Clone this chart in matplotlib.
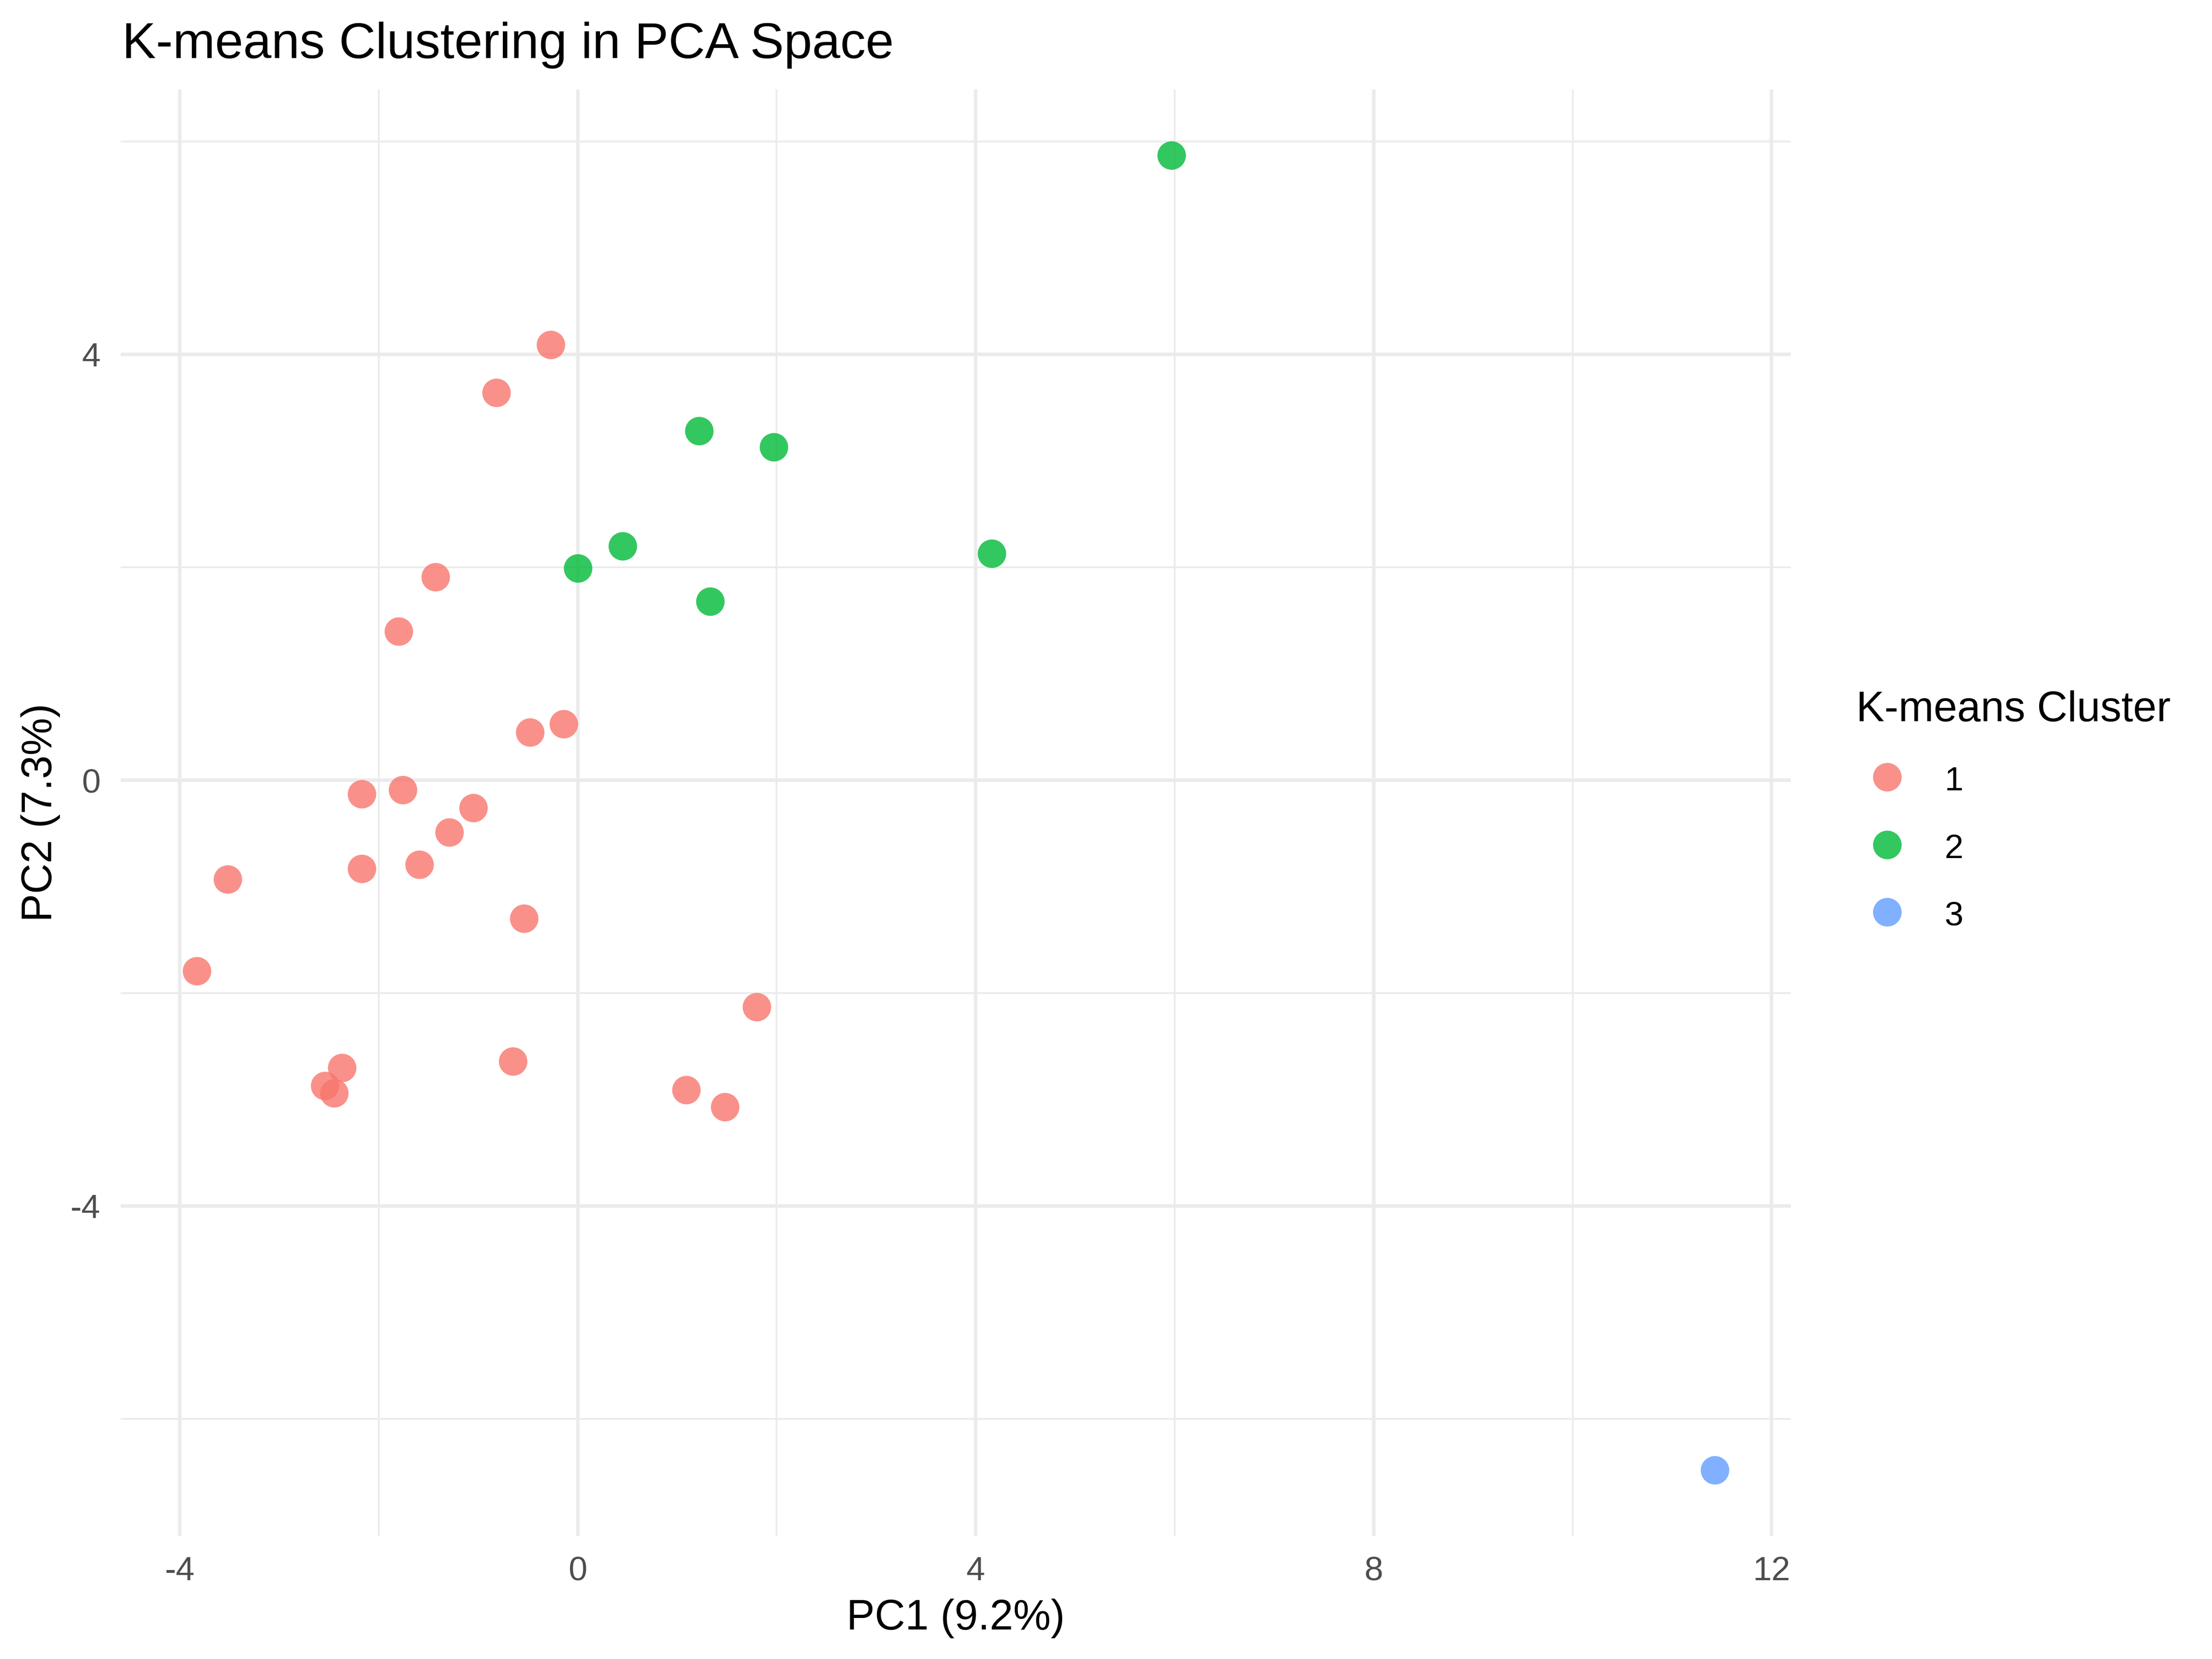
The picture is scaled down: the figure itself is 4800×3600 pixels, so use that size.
import matplotlib.pyplot as plt
from matplotlib.lines import Line2D
import numpy as np

plt.rcParams['font.family'] = ['Liberation Sans', 'DejaVu Sans']
plt.rcParams['axes.unicode_minus'] = False

# PCA scores, grouped by k-means cluster
pc1_c1 = [-0.27, -0.82, -1.43, -1.80, -0.14, -0.48, -2.17, -1.76, -1.05, -1.29,
          -3.52, -2.17, -1.59, -0.54, -3.83, 1.80, -2.37, -2.54, -2.45, -0.65,
          1.09, 1.48]
pc2_c1 = [4.09, 3.64, 1.91, 1.40, 0.53, 0.45, -0.13, -0.09, -0.26, -0.49,
          -0.93, -0.83, -0.79, -1.30, -1.79, -2.13, -2.70, -2.87, -2.94, -2.64,
          -2.91, -3.07]
pc1_c2 = [5.97, 1.22, 1.97, 0.45, 0.00, 1.33, 4.16]
pc2_c2 = [5.87, 3.28, 3.13, 2.20, 1.99, 1.68, 2.13]
pc1_c3 = [11.43]
pc2_c3 = [-6.48]

clusters = ['1', '2', '3']
colors = ['#F8766D', '#00BA38', '#619CFF']
xticks = [-4, 0, 4, 8, 12]
yticks = [-4, 0, 4]

W, H = 4800, 3600
fig = plt.figure(figsize=(16, 12), dpi=300)
ax = fig.add_axes([262 / W, 1 - 3333 / H, (3886 - 262) / W, (3333 - 194) / H])

xs = [pc1_c1, pc1_c2, pc1_c3]
ys = [pc2_c1, pc2_c2, pc2_c3]
for x, y, c in zip(xs, ys, colors):
    ax.scatter(x, y, s=220, color=c, alpha=0.8, linewidths=0, zorder=3)

allx = np.concatenate([np.array(v) for v in xs])
ally = np.concatenate([np.array(v) for v in ys])
dx = (allx.max() - allx.min()) * 0.05
dy = (ally.max() - ally.min()) * 0.05
ax.set_xlim(allx.min() - dx, allx.max() + dx)
ax.set_ylim(ally.min() - dy, ally.max() + dy)

ax.set_xticks(xticks)
ax.set_yticks(yticks)
ax.set_xticks([-2, 2, 6, 10], minor=True)
ax.set_yticks([-6, -2, 2, 6], minor=True)
ax.grid(which='major', color='#EBEBEB', linewidth=1.8)
ax.grid(which='minor', color='#EBEBEB', linewidth=0.9)
ax.set_axisbelow(True)
ax.tick_params(which='both', length=0, labelsize=17.6, labelcolor='#4D4D4D', pad=10.5)
for s in ax.spines.values():
    s.set_visible(False)

fig.text(265 / W, 1 - 126 / H, 'K-means Clustering in PCA Space', fontsize=26.4,
         ha='left', va='baseline')
fig.text(2074 / W, 1 - 3536 / H, 'PC1 (9.2%)', fontsize=22, ha='center', va='baseline')
fig.text(88 / W, 1 - (194 + 3333) / 2 / H, 'PC2 (7.3%)', fontsize=22, rotation=90,
         ha='center', va='center')

handles = [Line2D([], [], marker='o', linestyle='none', markersize=14.9,
                  markerfacecolor=c, markeredgewidth=0, alpha=0.8) for c in colors]
leg = ax.legend(handles, clusters, title='K-means Cluster', fontsize=17.6,
                title_fontsize=22, frameon=False, loc='upper left',
                bbox_to_anchor=(4028 / W, 1 - 1498 / H), bbox_transform=fig.transFigure,
                borderpad=0, borderaxespad=0, handlelength=1.82, handleheight=1.0,
                handletextpad=0.79, labelspacing=1.0)
leg._legend_box.align = 'left'

fig.savefig('out.png', dpi=300)
